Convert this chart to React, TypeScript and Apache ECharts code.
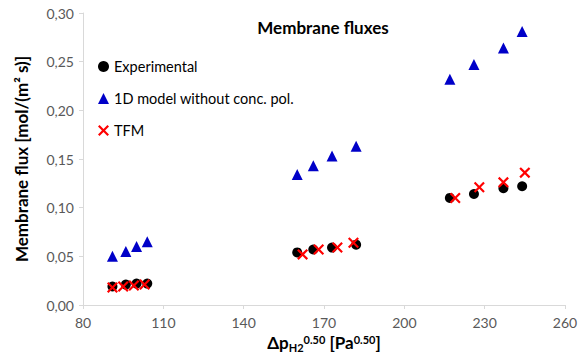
import React, { useEffect, useRef } from "react";
import * as echarts from "echarts";

const expX = [91, 96, 100, 104, 160, 166, 173, 182, 217, 226, 237, 244];
const expY = [0.019, 0.021, 0.022, 0.022, 0.054, 0.057, 0.059, 0.062, 0.110, 0.114, 0.120, 0.122];

const modelX = [91, 96, 100, 104, 160, 166, 173, 182, 217, 226, 237, 244];
const modelY = [0.050, 0.055, 0.060, 0.065, 0.134, 0.143, 0.153, 0.163, 0.232, 0.247, 0.264, 0.281];

const tfmX = [91, 95, 99, 103, 162, 168, 175, 181, 219, 228, 237, 245];
const tfmY = [0.018, 0.019, 0.020, 0.021, 0.052, 0.057, 0.059, 0.064, 0.110, 0.121, 0.126, 0.136];

const xTicks = [80, 110, 140, 170, 200, 230, 260];

const CROSS = "path://M0,1.4L1.4,0L5,3.6L8.6,0L10,1.4L6.4,5L10,8.6L8.6,10L5,6.4L1.4,10L0,8.6L3.6,5Z";

const FONT = "Lato";

export default function App() {
  const ref = useRef<HTMLDivElement>(null);
  useEffect(() => {
    if (!ref.current) return;
    const chart = echarts.init(ref.current, undefined, { renderer: "svg" });
    const pair = (xs: number[], ys: number[]) => xs.map((x, i) => [x, ys[i]]);
    chart.setOption({
      animation: false,
      textStyle: { fontFamily: FONT },
      title: {
        text: "Membrane fluxes",
        left: 318,
        top: 14,
        textAlign: "center",
        textStyle: { fontFamily: FONT, fontSize: 17, fontWeight: "bold", color: "#000" },
      },
      legend: {
        orient: "vertical",
        left: 98,
        top: 59,
        padding: 0,
        itemWidth: 11,
        itemHeight: 11,
        itemGap: 17,
        textStyle: { fontFamily: FONT, fontSize: 14.5, color: "#000" },
        data: ["Experimental", "1D model without conc. pol.", "TFM"],
      },
      grid: { left: 83, right: 17, top: 13, bottom: 56 },
      xAxis: {
        type: "value",
        min: 80,
        max: 260,
        interval: 30,
        axisLine: { show: true, lineStyle: { color: "#d9d9d9" } },
        axisTick: { show: true, inside: false, length: 4, lineStyle: { color: "#d9d9d9" } },
        splitLine: { show: false },
        axisLabel: {
          color: "#595959",
          fontSize: 14,
          fontFamily: FONT,
          margin: 10,
          formatter: (v: number) => (xTicks.includes(v) ? String(v) : ""),
        },
        name: "Δp{sub|H2}{sup|0.50} [Pa{sup|0.50}]",
        nameLocation: "middle",
        nameGap: 25,
        nameTextStyle: {
          fontFamily: FONT,
          fontSize: 17,
          fontWeight: "bold",
          color: "#000",
          rich: {
            sub: { fontSize: 11, fontWeight: "bold", fontFamily: FONT, color: "#000", padding: [9, 0, 0, 0] },
            sup: { fontSize: 11, fontWeight: "bold", fontFamily: FONT, color: "#000", padding: [0, 0, 7, 0] },
          },
        },
      },
      yAxis: {
        type: "value",
        min: 0,
        max: 0.3,
        interval: 0.05,
        axisLine: { show: true, lineStyle: { color: "#d9d9d9" } },
        axisTick: { show: true, length: 4, lineStyle: { color: "#d9d9d9" } },
        splitLine: { show: false },
        axisLabel: {
          color: "#595959",
          fontSize: 14,
          fontFamily: FONT,
          margin: 9,
          formatter: (v: number) => v.toFixed(2).replace(".", ","),
        },
        name: "Membrane flux [mol/(m² s)]",
        nameLocation: "middle",
        nameGap: 53,
        nameTextStyle: { fontFamily: FONT, fontSize: 17, fontWeight: "bold", color: "#000" },
      },
      series: [
        {
          name: "1D model without conc. pol.",
          type: "scatter",
          symbol: "triangle",
          symbolSize: 11,
          itemStyle: { color: "#0000c8", opacity: 1 },
          data: pair(modelX, modelY),
        },
        {
          name: "Experimental",
          type: "scatter",
          symbol: "circle",
          symbolSize: 10,
          itemStyle: { color: "#000", opacity: 1 },
          data: pair(expX, expY),
        },
        {
          name: "TFM",
          type: "scatter",
          symbol: CROSS,
          symbolSize: 11,
          itemStyle: { color: "#ff0000", opacity: 1 },
          data: pair(tfmX, tfmY),
        },
      ],
    });
    return () => chart.dispose();
  }, []);
  return <div ref={ref} style={{ width: 582, height: 361, position: "absolute", left: 0, top: 0 }} />;
}
